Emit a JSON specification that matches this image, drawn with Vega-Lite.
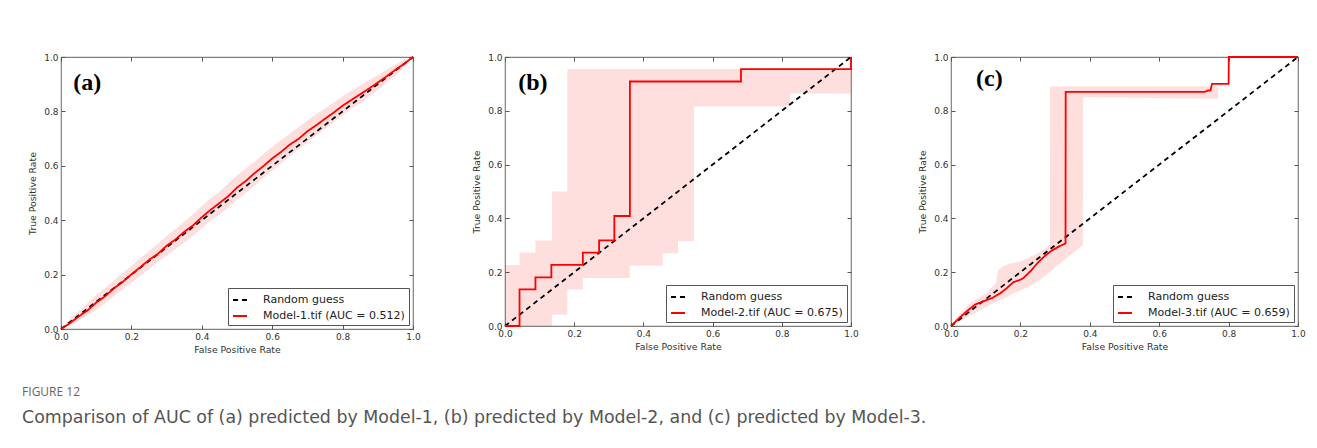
{
  "$schema": "https://vega.github.io/schema/vega-lite/v6.json",
  "padding": {"left": 22, "top": 52, "right": 5, "bottom": 5},
  "background": "white",
  "datasets": {
    "bandA": [
      {"fpr": 0, "lo": 0, "hi": 0},
      {"fpr": 0.025, "lo": 0.012, "hi": 0.035},
      {"fpr": 0.05, "lo": 0.03, "hi": 0.065},
      {"fpr": 0.075, "lo": 0.05, "hi": 0.095},
      {"fpr": 0.1, "lo": 0.07, "hi": 0.125},
      {"fpr": 0.125, "lo": 0.095, "hi": 0.15},
      {"fpr": 0.15, "lo": 0.12, "hi": 0.178},
      {"fpr": 0.175, "lo": 0.145, "hi": 0.205},
      {"fpr": 0.2, "lo": 0.17, "hi": 0.232},
      {"fpr": 0.225, "lo": 0.195, "hi": 0.26},
      {"fpr": 0.25, "lo": 0.22, "hi": 0.287},
      {"fpr": 0.275, "lo": 0.245, "hi": 0.313},
      {"fpr": 0.3, "lo": 0.27, "hi": 0.342},
      {"fpr": 0.325, "lo": 0.293, "hi": 0.368},
      {"fpr": 0.35, "lo": 0.318, "hi": 0.395},
      {"fpr": 0.375, "lo": 0.343, "hi": 0.422},
      {"fpr": 0.4, "lo": 0.37, "hi": 0.452},
      {"fpr": 0.425, "lo": 0.398, "hi": 0.482},
      {"fpr": 0.45, "lo": 0.42, "hi": 0.505},
      {"fpr": 0.475, "lo": 0.447, "hi": 0.535},
      {"fpr": 0.5, "lo": 0.475, "hi": 0.565},
      {"fpr": 0.525, "lo": 0.5, "hi": 0.59},
      {"fpr": 0.55, "lo": 0.527, "hi": 0.615},
      {"fpr": 0.575, "lo": 0.555, "hi": 0.643},
      {"fpr": 0.6, "lo": 0.583, "hi": 0.67},
      {"fpr": 0.625, "lo": 0.608, "hi": 0.695},
      {"fpr": 0.65, "lo": 0.635, "hi": 0.718},
      {"fpr": 0.675, "lo": 0.66, "hi": 0.742},
      {"fpr": 0.7, "lo": 0.686, "hi": 0.766},
      {"fpr": 0.725, "lo": 0.712, "hi": 0.79},
      {"fpr": 0.75, "lo": 0.735, "hi": 0.81},
      {"fpr": 0.775, "lo": 0.76, "hi": 0.834},
      {"fpr": 0.8, "lo": 0.785, "hi": 0.855},
      {"fpr": 0.825, "lo": 0.81, "hi": 0.876},
      {"fpr": 0.85, "lo": 0.83, "hi": 0.895},
      {"fpr": 0.875, "lo": 0.855, "hi": 0.915},
      {"fpr": 0.9, "lo": 0.878, "hi": 0.933},
      {"fpr": 0.925, "lo": 0.905, "hi": 0.953},
      {"fpr": 0.95, "lo": 0.93, "hi": 0.972},
      {"fpr": 0.975, "lo": 0.962, "hi": 0.99},
      {"fpr": 1, "lo": 1, "hi": 1}
    ],
    "lineA": [
      {"fpr": 0, "tpr": 0, "s": "Model-1.tif (AUC = 0.512)"},
      {"fpr": 0.025, "tpr": 0.021, "s": "Model-1.tif (AUC = 0.512)"},
      {"fpr": 0.05, "tpr": 0.046, "s": "Model-1.tif (AUC = 0.512)"},
      {"fpr": 0.075, "tpr": 0.068, "s": "Model-1.tif (AUC = 0.512)"},
      {"fpr": 0.1, "tpr": 0.097, "s": "Model-1.tif (AUC = 0.512)"},
      {"fpr": 0.125, "tpr": 0.12, "s": "Model-1.tif (AUC = 0.512)"},
      {"fpr": 0.15, "tpr": 0.149, "s": "Model-1.tif (AUC = 0.512)"},
      {"fpr": 0.175, "tpr": 0.173, "s": "Model-1.tif (AUC = 0.512)"},
      {"fpr": 0.2, "tpr": 0.201, "s": "Model-1.tif (AUC = 0.512)"},
      {"fpr": 0.225, "tpr": 0.227, "s": "Model-1.tif (AUC = 0.512)"},
      {"fpr": 0.25, "tpr": 0.254, "s": "Model-1.tif (AUC = 0.512)"},
      {"fpr": 0.275, "tpr": 0.276, "s": "Model-1.tif (AUC = 0.512)"},
      {"fpr": 0.3, "tpr": 0.306, "s": "Model-1.tif (AUC = 0.512)"},
      {"fpr": 0.325, "tpr": 0.329, "s": "Model-1.tif (AUC = 0.512)"},
      {"fpr": 0.35, "tpr": 0.357, "s": "Model-1.tif (AUC = 0.512)"},
      {"fpr": 0.375, "tpr": 0.381, "s": "Model-1.tif (AUC = 0.512)"},
      {"fpr": 0.4, "tpr": 0.411, "s": "Model-1.tif (AUC = 0.512)"},
      {"fpr": 0.425, "tpr": 0.438, "s": "Model-1.tif (AUC = 0.512)"},
      {"fpr": 0.45, "tpr": 0.463, "s": "Model-1.tif (AUC = 0.512)"},
      {"fpr": 0.475, "tpr": 0.488, "s": "Model-1.tif (AUC = 0.512)"},
      {"fpr": 0.5, "tpr": 0.52, "s": "Model-1.tif (AUC = 0.512)"},
      {"fpr": 0.525, "tpr": 0.544, "s": "Model-1.tif (AUC = 0.512)"},
      {"fpr": 0.55, "tpr": 0.573, "s": "Model-1.tif (AUC = 0.512)"},
      {"fpr": 0.575, "tpr": 0.599, "s": "Model-1.tif (AUC = 0.512)"},
      {"fpr": 0.6, "tpr": 0.627, "s": "Model-1.tif (AUC = 0.512)"},
      {"fpr": 0.625, "tpr": 0.651, "s": "Model-1.tif (AUC = 0.512)"},
      {"fpr": 0.65, "tpr": 0.678, "s": "Model-1.tif (AUC = 0.512)"},
      {"fpr": 0.675, "tpr": 0.699, "s": "Model-1.tif (AUC = 0.512)"},
      {"fpr": 0.7, "tpr": 0.727, "s": "Model-1.tif (AUC = 0.512)"},
      {"fpr": 0.725, "tpr": 0.749, "s": "Model-1.tif (AUC = 0.512)"},
      {"fpr": 0.75, "tpr": 0.773, "s": "Model-1.tif (AUC = 0.512)"},
      {"fpr": 0.775, "tpr": 0.796, "s": "Model-1.tif (AUC = 0.512)"},
      {"fpr": 0.8, "tpr": 0.821, "s": "Model-1.tif (AUC = 0.512)"},
      {"fpr": 0.825, "tpr": 0.842, "s": "Model-1.tif (AUC = 0.512)"},
      {"fpr": 0.85, "tpr": 0.863, "s": "Model-1.tif (AUC = 0.512)"},
      {"fpr": 0.875, "tpr": 0.884, "s": "Model-1.tif (AUC = 0.512)"},
      {"fpr": 0.9, "tpr": 0.906, "s": "Model-1.tif (AUC = 0.512)"},
      {"fpr": 0.925, "tpr": 0.929, "s": "Model-1.tif (AUC = 0.512)"},
      {"fpr": 0.95, "tpr": 0.953, "s": "Model-1.tif (AUC = 0.512)"},
      {"fpr": 0.975, "tpr": 0.975, "s": "Model-1.tif (AUC = 0.512)"},
      {"fpr": 1, "tpr": 1, "s": "Model-1.tif (AUC = 0.512)"}
    ],
    "diagA": [
      {"fpr": 0, "tpr": 0, "s": "Random guess"},
      {"fpr": 1, "tpr": 1, "s": "Random guess"}
    ],
    "labA": [{"fpr": 0.035, "tpr": 0.905, "t": "(a)"}],
    "bandB": [
      {"fpr": 0, "lo": 0, "hi": 0.227},
      {"fpr": 0.042, "lo": 0, "hi": 0.273},
      {"fpr": 0.088, "lo": 0, "hi": 0.318},
      {"fpr": 0.136, "lo": 0.042, "hi": 0.5},
      {"fpr": 0.18, "lo": 0.136, "hi": 0.955},
      {"fpr": 0.225, "lo": 0.178, "hi": 0.955},
      {"fpr": 0.361, "lo": 0.224, "hi": 0.955},
      {"fpr": 0.456, "lo": 0.27, "hi": 0.955},
      {"fpr": 0.5, "lo": 0.316, "hi": 0.955},
      {"fpr": 0.546, "lo": 0.816, "hi": 0.955},
      {"fpr": 0.824, "lo": 0.864, "hi": 0.955},
      {"fpr": 1, "lo": 0.864, "hi": 0.955}
    ],
    "lineB": [
      {"fpr": 0, "tpr": 0, "s": "Model-2.tif (AUC = 0.675)"},
      {"fpr": 0.042, "tpr": 0.136, "s": "Model-2.tif (AUC = 0.675)"},
      {"fpr": 0.088, "tpr": 0.181, "s": "Model-2.tif (AUC = 0.675)"},
      {"fpr": 0.134, "tpr": 0.227, "s": "Model-2.tif (AUC = 0.675)"},
      {"fpr": 0.225, "tpr": 0.273, "s": "Model-2.tif (AUC = 0.675)"},
      {"fpr": 0.272, "tpr": 0.318, "s": "Model-2.tif (AUC = 0.675)"},
      {"fpr": 0.316, "tpr": 0.409, "s": "Model-2.tif (AUC = 0.675)"},
      {"fpr": 0.361, "tpr": 0.909, "s": "Model-2.tif (AUC = 0.675)"},
      {"fpr": 0.682, "tpr": 0.955, "s": "Model-2.tif (AUC = 0.675)"},
      {"fpr": 1, "tpr": 1, "s": "Model-2.tif (AUC = 0.675)"}
    ],
    "diagB": [
      {"fpr": 0, "tpr": 0, "s": "Random guess"},
      {"fpr": 1, "tpr": 1, "s": "Random guess"}
    ],
    "labB": [{"fpr": 0.038, "tpr": 0.903, "t": "(b)"}],
    "bandC": [
      {"fpr": 0, "lo": 0, "hi": 0},
      {"fpr": 0.02, "lo": 0.01, "hi": 0.035},
      {"fpr": 0.05, "lo": 0.035, "hi": 0.08},
      {"fpr": 0.08, "lo": 0.055, "hi": 0.105},
      {"fpr": 0.1, "lo": 0.07, "hi": 0.12},
      {"fpr": 0.13, "lo": 0.09, "hi": 0.16},
      {"fpr": 0.135, "lo": 0.093, "hi": 0.205},
      {"fpr": 0.15, "lo": 0.1, "hi": 0.222},
      {"fpr": 0.17, "lo": 0.115, "hi": 0.232},
      {"fpr": 0.2, "lo": 0.132, "hi": 0.24},
      {"fpr": 0.23, "lo": 0.15, "hi": 0.258},
      {"fpr": 0.25, "lo": 0.165, "hi": 0.27},
      {"fpr": 0.285, "lo": 0.2, "hi": 0.3},
      {"fpr": 0.2855, "lo": 0.2, "hi": 0.89},
      {"fpr": 0.3, "lo": 0.218, "hi": 0.89},
      {"fpr": 0.35, "lo": 0.27, "hi": 0.89},
      {"fpr": 0.38, "lo": 0.3, "hi": 0.89},
      {"fpr": 0.3805, "lo": 0.85, "hi": 0.89},
      {"fpr": 0.77, "lo": 0.845, "hi": 0.89}
    ],
    "lineC": [
      {"fpr": 0, "tpr": 0, "s": "Model-3.tif (AUC = 0.659)"},
      {"fpr": 0.02, "tpr": 0.025, "s": "Model-3.tif (AUC = 0.659)"},
      {"fpr": 0.05, "tpr": 0.06, "s": "Model-3.tif (AUC = 0.659)"},
      {"fpr": 0.07, "tpr": 0.08, "s": "Model-3.tif (AUC = 0.659)"},
      {"fpr": 0.1, "tpr": 0.095, "s": "Model-3.tif (AUC = 0.659)"},
      {"fpr": 0.12, "tpr": 0.105, "s": "Model-3.tif (AUC = 0.659)"},
      {"fpr": 0.14, "tpr": 0.12, "s": "Model-3.tif (AUC = 0.659)"},
      {"fpr": 0.16, "tpr": 0.14, "s": "Model-3.tif (AUC = 0.659)"},
      {"fpr": 0.18, "tpr": 0.163, "s": "Model-3.tif (AUC = 0.659)"},
      {"fpr": 0.2, "tpr": 0.172, "s": "Model-3.tif (AUC = 0.659)"},
      {"fpr": 0.21, "tpr": 0.18, "s": "Model-3.tif (AUC = 0.659)"},
      {"fpr": 0.23, "tpr": 0.205, "s": "Model-3.tif (AUC = 0.659)"},
      {"fpr": 0.25, "tpr": 0.235, "s": "Model-3.tif (AUC = 0.659)"},
      {"fpr": 0.27, "tpr": 0.26, "s": "Model-3.tif (AUC = 0.659)"},
      {"fpr": 0.29, "tpr": 0.28, "s": "Model-3.tif (AUC = 0.659)"},
      {"fpr": 0.31, "tpr": 0.295, "s": "Model-3.tif (AUC = 0.659)"},
      {"fpr": 0.33, "tpr": 0.307, "s": "Model-3.tif (AUC = 0.659)"},
      {"fpr": 0.3305, "tpr": 0.87, "s": "Model-3.tif (AUC = 0.659)"},
      {"fpr": 0.73, "tpr": 0.87, "s": "Model-3.tif (AUC = 0.659)"},
      {"fpr": 0.74, "tpr": 0.875, "s": "Model-3.tif (AUC = 0.659)"},
      {"fpr": 0.748, "tpr": 0.876, "s": "Model-3.tif (AUC = 0.659)"},
      {"fpr": 0.752, "tpr": 0.9, "s": "Model-3.tif (AUC = 0.659)"},
      {"fpr": 0.8, "tpr": 0.9, "s": "Model-3.tif (AUC = 0.659)"},
      {"fpr": 0.8005, "tpr": 1, "s": "Model-3.tif (AUC = 0.659)"},
      {"fpr": 1, "tpr": 1, "s": "Model-3.tif (AUC = 0.659)"}
    ],
    "diagC": [
      {"fpr": 0, "tpr": 0, "s": "Random guess"},
      {"fpr": 1, "tpr": 1, "s": "Random guess"}
    ],
    "labC": [{"fpr": 0.072, "tpr": 0.918, "t": "(c)"}]
  },
  "title": {
    "text": "FIGURE 12",
    "subtitle": "Comparison of AUC of (a) predicted by Model-1, (b) predicted by Model-2, and (c) predicted by Model-3.",
    "orient": "bottom",
    "anchor": "start",
    "frame": "bounds",
    "offset": 32,
    "dx": -6,
    "font": "Open Sans",
    "fontSize": 12,
    "fontWeight": "normal",
    "color": "#666666",
    "subtitleFont": "DejaVu Sans",
    "subtitleFontSize": 17.4,
    "subtitleColor": "#555555",
    "subtitlePadding": 10
  },
  "spacing": 59,
  "resolve": {"scale": {"color": "independent", "strokeDash": "independent"}, "legend": {"color": "independent", "strokeDash": "independent"}},
  "hconcat": [
    {
      "spacing": 51,
      "resolve": {"scale": {"color": "independent", "strokeDash": "independent"}, "legend": {"color": "independent", "strokeDash": "independent"}},
      "hconcat": [
        {
          "width": 352, "height": 272,
          "resolve": {"axis": {"x": "independent", "y": "independent"}},
          "layer": [
            {
              "data": {"name": "bandA"},
              "mark": {"type": "area", "color": "#ff0000", "opacity": 0.13},
              "encoding": {
                "x": {"field": "fpr", "type": "quantitative", "scale": {"domain": [0, 1], "nice": false}, "axis": {"title": "False Positive Rate", "values": [0, 0.2, 0.4, 0.6, 0.8, 1], "format": ".1f", "orient": "bottom"}},
                "y": {"field": "lo", "type": "quantitative", "scale": {"domain": [0, 1], "nice": false}, "axis": {"title": "True Positive Rate", "values": [0, 0.2, 0.4, 0.6, 0.8, 1], "format": ".1f", "orient": "left"}},
                "y2": {"field": "hi"}
              }
            },
            {
              "data": {"name": "diagA"},
              "mark": {"type": "line", "strokeWidth": 1.8},
              "encoding": {
                "x": {"field": "fpr", "type": "quantitative", "axis": {"orient": "top", "labels": false, "title": null, "values": [0, 0.2, 0.4, 0.6, 0.8, 1]}},
                "y": {"field": "tpr", "type": "quantitative", "axis": {"orient": "right", "labels": false, "title": null, "values": [0, 0.2, 0.4, 0.6, 0.8, 1]}},
                "color": {"field": "s", "type": "nominal", "scale": {"domain": ["Random guess", "Model-1.tif (AUC = 0.512)"], "range": ["black", "#ff0000"]}, "legend": {"title": null}},
                "strokeDash": {"field": "s", "type": "nominal", "scale": {"domain": ["Random guess", "Model-1.tif (AUC = 0.512)"], "range": [[5, 4], [1, 0]]}, "legend": {"title": null}}
              }
            },
            {
              "data": {"name": "lineA"},
              "mark": {"type": "line", "strokeWidth": 1.8},
              "encoding": {
                "x": {"field": "fpr", "type": "quantitative", "axis": null},
                "y": {"field": "tpr", "type": "quantitative", "axis": null},
                "color": {"field": "s", "type": "nominal", "legend": {"title": null}},
                "strokeDash": {"field": "s", "type": "nominal", "legend": {"title": null}}
              }
            },
            {
              "data": {"name": "labA"},
              "mark": {"type": "text", "font": "Liberation Serif", "fontWeight": "bold", "fontSize": 24, "align": "left", "baseline": "middle", "color": "black"},
              "encoding": {
                "x": {"field": "fpr", "type": "quantitative", "axis": null},
                "y": {"field": "tpr", "type": "quantitative", "axis": null},
                "text": {"field": "t"}
              }
            }
          ]
        },
        {
          "width": 346, "height": 269,
          "resolve": {"axis": {"x": "independent", "y": "independent"}},
          "layer": [
            {
              "data": {"name": "bandB"},
              "mark": {"type": "area", "color": "#ff0000", "opacity": 0.13, "interpolate": "step-after"},
              "encoding": {
                "x": {"field": "fpr", "type": "quantitative", "scale": {"domain": [0, 1], "nice": false}, "axis": {"title": "False Positive Rate", "values": [0, 0.2, 0.4, 0.6, 0.8, 1], "format": ".1f", "orient": "bottom"}},
                "y": {"field": "lo", "type": "quantitative", "scale": {"domain": [0, 1], "nice": false}, "axis": {"title": "True Positive Rate", "values": [0, 0.2, 0.4, 0.6, 0.8, 1], "format": ".1f", "orient": "left"}},
                "y2": {"field": "hi"}
              }
            },
            {
              "data": {"name": "diagB"},
              "mark": {"type": "line", "strokeWidth": 1.8},
              "encoding": {
                "x": {"field": "fpr", "type": "quantitative", "axis": {"orient": "top", "labels": false, "title": null, "values": [0, 0.2, 0.4, 0.6, 0.8, 1]}},
                "y": {"field": "tpr", "type": "quantitative", "axis": {"orient": "right", "labels": false, "title": null, "values": [0, 0.2, 0.4, 0.6, 0.8, 1]}},
                "color": {"field": "s", "type": "nominal", "scale": {"domain": ["Random guess", "Model-2.tif (AUC = 0.675)"], "range": ["black", "#ff0000"]}, "legend": {"title": null}},
                "strokeDash": {"field": "s", "type": "nominal", "scale": {"domain": ["Random guess", "Model-2.tif (AUC = 0.675)"], "range": [[5, 4], [1, 0]]}, "legend": {"title": null}}
              }
            },
            {
              "data": {"name": "lineB"},
              "mark": {"type": "line", "strokeWidth": 1.8, "interpolate": "step-after"},
              "encoding": {
                "x": {"field": "fpr", "type": "quantitative", "axis": null},
                "y": {"field": "tpr", "type": "quantitative", "axis": null},
                "color": {"field": "s", "type": "nominal", "legend": {"title": null}},
                "strokeDash": {"field": "s", "type": "nominal", "legend": {"title": null}}
              }
            },
            {
              "data": {"name": "labB"},
              "mark": {"type": "text", "font": "Liberation Serif", "fontWeight": "bold", "fontSize": 24, "align": "left", "baseline": "middle", "color": "black"},
              "encoding": {
                "x": {"field": "fpr", "type": "quantitative", "axis": null},
                "y": {"field": "tpr", "type": "quantitative", "axis": null},
                "text": {"field": "t"}
              }
            }
          ]
        }
      ]
    },
    {
      "width": 347, "height": 269,
      "resolve": {"axis": {"x": "independent", "y": "independent"}},
      "layer": [
        {
          "data": {"name": "bandC"},
          "mark": {"type": "area", "color": "#ff0000", "opacity": 0.13},
          "encoding": {
            "x": {"field": "fpr", "type": "quantitative", "scale": {"domain": [0, 1], "nice": false}, "axis": {"title": "False Positive Rate", "values": [0, 0.2, 0.4, 0.6, 0.8, 1], "format": ".1f", "orient": "bottom"}},
            "y": {"field": "lo", "type": "quantitative", "scale": {"domain": [0, 1], "nice": false}, "axis": {"title": "True Positive Rate", "values": [0, 0.2, 0.4, 0.6, 0.8, 1], "format": ".1f", "orient": "left"}},
            "y2": {"field": "hi"}
          }
        },
        {
          "data": {"name": "diagC"},
          "mark": {"type": "line", "strokeWidth": 1.8},
          "encoding": {
            "x": {"field": "fpr", "type": "quantitative", "axis": {"orient": "top", "labels": false, "title": null, "values": [0, 0.2, 0.4, 0.6, 0.8, 1]}},
            "y": {"field": "tpr", "type": "quantitative", "axis": {"orient": "right", "labels": false, "title": null, "values": [0, 0.2, 0.4, 0.6, 0.8, 1]}},
            "color": {"field": "s", "type": "nominal", "scale": {"domain": ["Random guess", "Model-3.tif (AUC = 0.659)"], "range": ["black", "#ff0000"]}, "legend": {"title": null}},
            "strokeDash": {"field": "s", "type": "nominal", "scale": {"domain": ["Random guess", "Model-3.tif (AUC = 0.659)"], "range": [[5, 4], [1, 0]]}, "legend": {"title": null}}
          }
        },
        {
          "data": {"name": "lineC"},
          "mark": {"type": "line", "strokeWidth": 1.8},
          "encoding": {
            "x": {"field": "fpr", "type": "quantitative", "axis": null},
            "y": {"field": "tpr", "type": "quantitative", "axis": null},
            "color": {"field": "s", "type": "nominal", "legend": {"title": null}},
            "strokeDash": {"field": "s", "type": "nominal", "legend": {"title": null}}
          }
        },
        {
          "data": {"name": "labC"},
          "mark": {"type": "text", "font": "Liberation Serif", "fontWeight": "bold", "fontSize": 24, "align": "left", "baseline": "middle", "color": "black"},
          "encoding": {
            "x": {"field": "fpr", "type": "quantitative", "axis": null},
            "y": {"field": "tpr", "type": "quantitative", "axis": null},
            "text": {"field": "t"}
          }
        }
      ]
    }
  ],
  "config": {
    "font": "DejaVu Sans",
    "view": {"stroke": "#808080", "strokeWidth": 1.2},
    "axis": {
      "grid": false, "domain": false, "tickColor": "#555555", "tickSize": -4, "tickWidth": 1,
      "labelFont": "DejaVu Sans", "labelFontSize": 9, "labelColor": "#333333", "labelPadding": 7,
      "titleFont": "DejaVu Sans", "titleFontSize": 9.3, "titleFontWeight": "normal", "titleColor": "#333333",
      "labelFlush": false
    },
    "axisX": {"titlePadding": 4},
    "axisY": {"titlePadding": 6},
    "legend": {
      "orient": "bottom-right", "offset": 4, "padding": 4, "strokeColor": "#555555", "fillColor": "white",
      "symbolType": "stroke", "symbolSize": 196, "symbolStrokeWidth": 2,
      "labelFont": "DejaVu Sans", "labelFontSize": 11, "labelColor": "#222222", "rowPadding": 3, "labelOffset": 15,
      "cornerRadius": 0
    }
  }
}
